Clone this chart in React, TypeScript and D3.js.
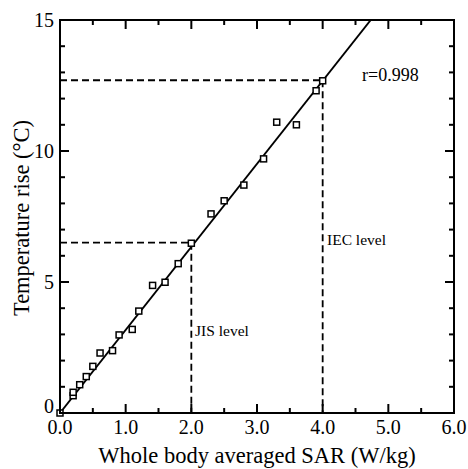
import React from "react";
import * as d3 from "d3";

const sarValues = [0.0, 0.2, 0.2, 0.3, 0.4, 0.5, 0.61, 0.8, 0.9, 1.1, 1.2, 1.41, 1.6, 1.8, 2.0, 2.3, 2.5, 2.8, 3.1, 3.3, 3.6, 3.9, 4.0];
const tempRise = [0.0, 0.66, 0.79, 1.08, 1.39, 1.78, 2.29, 2.38, 2.98, 3.19, 3.89, 4.87, 4.99, 5.7, 6.48, 7.6, 8.1, 8.7, 9.7, 11.1, 11.0, 12.3, 12.68];
const fitSlope = 3.17;
const xTickLabels = ["0.0", "1.0", "2.0", "3.0", "4.0", "5.0", "6.0"];
const yTickLabels = ["0", "5", "10", "15"];
const jisLevel = { sar: 2.0, temp: 6.5 };
const iecLevel = { sar: 4.0, temp: 12.7 };

const W = 468, H = 469;
const left = 60, right = 454, top = 20, bottom = 413;
const FONT = "'Times New Roman', Times, Tinos, 'Liberation Serif', 'Noto Serif', 'DejaVu Serif', FreeSerif, serif";

export default function App() {
  const x = d3.scaleLinear().domain([0, 6]).range([left, right]);
  const y = d3.scaleLinear().domain([0, 15]).range([bottom, top]);

  const xMajor = d3.range(0, 6.01, 1);
  const xMinor = d3.range(0.5, 6, 1);
  const yMajor = d3.range(0, 15.01, 5);
  const yMinor = d3.range(0, 15.01, 1).filter((v) => v % 5 !== 0);

  const xEnd = 15 / fitSlope;
  const line = d3.line<[number, number]>().x((d) => x(d[0])).y((d) => y(d[1]));
  const fitPath = line([[0, 0], [xEnd, fitSlope * xEnd]]);

  const dash = "7,4";
  const sq = 6;
  const ts = { fontFamily: FONT };

  return (
    <svg width={W} height={H} style={{ position: "absolute", left: 0, top: 0, fontFamily: FONT }}>
      <rect x={0} y={0} width={W} height={H} fill="#fff" />
      {[jisLevel, iecLevel].map((lv, i) => (
        <g key={i} stroke="#000" strokeWidth={1.8} strokeDasharray={dash} fill="none">
          <line x1={x(0)} x2={x(lv.sar)} y1={y(lv.temp)} y2={y(lv.temp)} />
          <line x1={x(lv.sar)} x2={x(lv.sar)} y1={y(lv.temp)} y2={y(0)} />
        </g>
      ))}
      <path d={fitPath || ""} stroke="#000" strokeWidth={2} fill="none" />
      {sarValues.map((s, i) => (
        <rect key={i} x={x(s) - sq / 2} y={y(tempRise[i]) - sq / 2} width={sq} height={sq}
          fill="#fff" stroke="#000" strokeWidth={1.5} />
      ))}
      <rect x={left} y={top} width={right - left} height={bottom - top} fill="none" stroke="#000" strokeWidth={2} />
      {xMajor.map((v) => (
        <g key={"xm" + v} stroke="#000" strokeWidth={2}>
          <line x1={x(v)} x2={x(v)} y1={bottom} y2={bottom - 9} />
          <line x1={x(v)} x2={x(v)} y1={top} y2={top + 9} />
        </g>
      ))}
      {xMinor.map((v) => (
        <g key={"xn" + v} stroke="#000" strokeWidth={2}>
          <line x1={x(v)} x2={x(v)} y1={bottom} y2={bottom - 5} />
          <line x1={x(v)} x2={x(v)} y1={top} y2={top + 5} />
        </g>
      ))}
      {yMajor.map((v) => (
        <g key={"ym" + v} stroke="#000" strokeWidth={2}>
          <line x1={left} x2={left + 9} y1={y(v)} y2={y(v)} />
          <line x1={right} x2={right - 9} y1={y(v)} y2={y(v)} />
        </g>
      ))}
      {yMinor.map((v) => (
        <g key={"yn" + v} stroke="#000" strokeWidth={2}>
          <line x1={left} x2={left + 5} y1={y(v)} y2={y(v)} />
          <line x1={right} x2={right - 5} y1={y(v)} y2={y(v)} />
        </g>
      ))}
      {xTickLabels.map((t, i) => (
        <text key={"xl" + t} x={x(xMajor[i])} y={434} textAnchor="middle" style={ts} fontSize={20}>{t}</text>
      ))}
      {yTickLabels.map((t, i) => (
        <text key={"yl" + t} x={54} y={y(yMajor[i]) + (i === 0 ? 0 : 7)} textAnchor="end" style={ts} fontSize={20}>{t}</text>
      ))}
      <text x={257} y={463} textAnchor="middle" style={ts} fontSize={22.5}>Whole body averaged SAR (W/kg)</text>
      <text transform={`translate(29,218) rotate(-90)`} textAnchor="middle" style={ts} fontSize={22.5}>Temperature rise (°C)</text>
      <text x={362} y={81} style={ts} fontSize={18}>r=0.998</text>
      <text x={327} y={245} style={ts} fontSize={15.5}>IEC level</text>
      <text x={195} y={336} style={ts} fontSize={15.5}>JIS level</text>
    </svg>
  );
}
